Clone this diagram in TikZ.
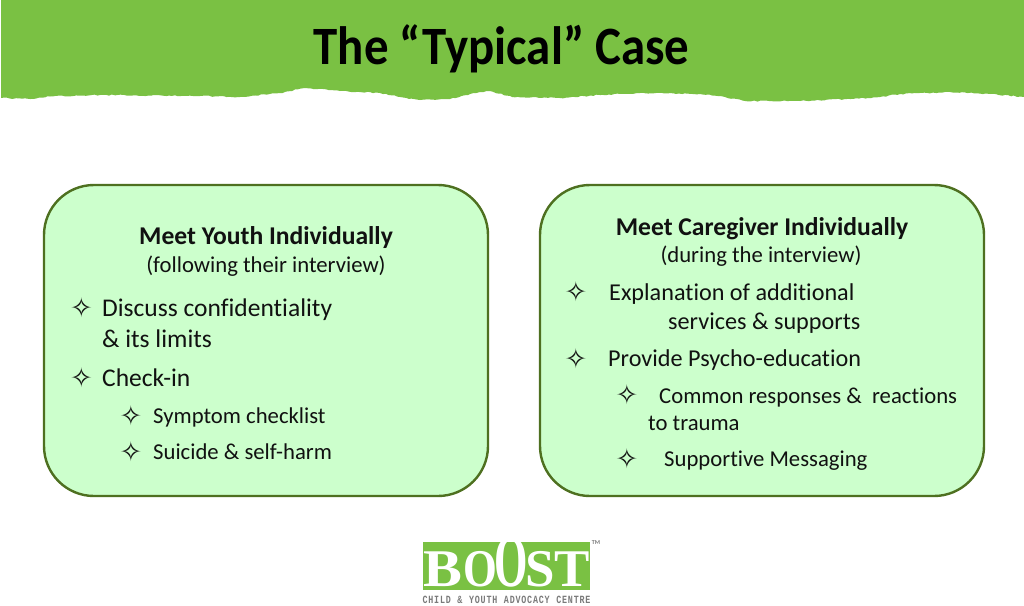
\documentclass[tikz,border=0pt]{standalone}
\usepackage{fontspec}
\setmainfont{Carlito}[RawFeature={-liga}]
\newfontfamily\symfont{DejaVu Sans}
\newfontfamily\logofont{Liberation Serif}
\newfontfamily\logosans{Liberation Mono}
\usetikzlibrary{decorations.pathmorphing}
\definecolor{bannergreen}{HTML}{7AC143}
\definecolor{panelfill}{HTML}{CCFFCC}
\definecolor{paneledge}{HTML}{4E7020}
\definecolor{inkc}{HTML}{111111}
\definecolor{logogray}{HTML}{7A7A7A}
\tikzset{
  panel/.style={draw=paneledge,line width=2.4pt,fill=panelfill,rounded corners=50pt},
  head/.style={anchor=base,font=\fontsize{25.6}{25.6}\selectfont\bfseries,text=inkc,inner sep=0pt},
  sub/.style={anchor=base,font=\fontsize{22.7}{22.7}\selectfont,text=inkc,inner sep=0pt},
  big/.style={anchor=base west,font=\fontsize{25.5}{25.5}\selectfont,text=inkc,inner sep=0pt},
  mid/.style={anchor=base west,font=\fontsize{22.7}{22.7}\selectfont,text=inkc,inner sep=0pt},
  rbig/.style={anchor=base west,font=\fontsize{24.2}{24.2}\selectfont,text=inkc,inner sep=0pt},
  bul/.style={anchor=center,font=\symfont\fontsize{27}{27}\selectfont,text=inkc,inner sep=0pt},
  logol/.style={anchor=base,text=white,inner sep=0pt,font=\logofont\bfseries\fontsize{53}{53}\selectfont},
}
\begin{document}
\begin{tikzpicture}[x=1pt,y=-1pt]
\useasboundingbox (0,0) rectangle (1024,605);
\fill[white] (0,0) rectangle (1024,605);
% banner
\fill[bannergreen,decoration={random steps,segment length=3pt,amplitude=0.6pt}]
  (1,0) -- (1,98) decorate {-- (30,99) -- (50,96.5) -- (100,95) -- (200,96) -- (240,97) -- (280,93) -- (305,88)
  -- (340,91) -- (380,93) -- (400,97) -- (420,100) -- (450,99) -- (480,92) -- (490,91) -- (512,97)
  -- (560,98) -- (600,95) -- (640,93) -- (700,94) -- (725,97) -- (745,101) -- (800,101) -- (850,99)
  -- (880,97) -- (900,94) -- (950,92) -- (990,94) -- (1024,97)} -- (1024,0) -- cycle;
\node[anchor=base,inner sep=0pt,xscale=0.905,font=\fontsize{54}{54}\selectfont\bfseries,text=black] (title) at (501.5,64) {The “Typical” Case};
% panels
\path[panel] (44,185) rectangle (488,496);
\path[panel] (540,185) rectangle (984,496);
% left
\node[head] (lh) at (266,244) {Meet Youth Individually};
\node[sub] (ls) at (266,272) {(following their interview)};
\node[bul] (b1) at (81.5,308) {✧};
\node[big] (t1) at (102,316) {Discuss confidentiality};
\node[big] (t1b) at (102,347) {\& its limits};
\node[bul] (b2) at (81.5,378) {✧};
\node[big] (t2) at (102,386) {Check-in};
\node[bul] (b3) at (131,416) {✧};
\node[mid] (t3) at (153,423) {Symptom checklist};
\node[bul] (b4) at (131,452) {✧};
\node[mid] (t4) at (153,459) {Suicide \& self-harm};
% right
\node[head] (rh) at (762,235) {Meet Caregiver Individually};
\node[sub] (rs) at (761,262) {(during the interview)};
\node[bul] (c1) at (576,292) {✧};
\node[rbig] (u1) at (609,300) {Explanation of additional};
\node[rbig] (u1b) at (668,329) {services \& supports};
\node[bul] (c2) at (576,359) {✧};
\node[rbig] (u2) at (608,366) {Provide Psycho-education};
\node[bul] (c3) at (627,395) {✧};
\node[mid] (u3) at (659,403) {Common responses \&\ \ reactions};
\node[mid] (u3b) at (648,430) {to trauma};
\node[bul] (c4) at (627,459) {✧};
\node[mid] (u4) at (664,466) {Supportive Messaging};
% logo
\fill[bannergreen] (423,542) rectangle (590,590);
\node[logol,xscale=1.1] (lgb) at (442.5,586) {B};
\node[logol,xscale=0.82] (lgo1) at (480,586) {O};
\node[logol,xscale=0.58,font=\logofont\bfseries\fontsize{74}{74}\selectfont] (lgo2) at (511,586) {O};
\node[logol,xscale=1] (lgs) at (540,586) {S};
\node[logol,xscale=1] (lgt) at (572.5,586) {T};
\node[anchor=base,inner sep=0pt,xscale=0.76,font=\logosans\bfseries\fontsize{11}{11}\selectfont,text=logogray] (lgc) at (506.5,603.5) {C\kern1.05pt H\kern1.05pt I\kern1.05pt L\kern1.05pt D\kern1.05pt\ \kern1.05pt\&\kern1.05pt\ \kern1.05pt Y\kern1.05pt O\kern1.05pt U\kern1.05pt T\kern1.05pt H\kern1.05pt\ \kern1.05pt A\kern1.05pt D\kern1.05pt V\kern1.05pt O\kern1.05pt C\kern1.05pt A\kern1.05pt C\kern1.05pt Y\kern1.05pt\ \kern1.05pt C\kern1.05pt E\kern1.05pt N\kern1.05pt T\kern1.05pt R\kern1.05pt E};
\node[anchor=center,inner sep=0pt,font=\fontsize{6}{6}\selectfont\bfseries,text=logogray] (lgtm) at (596,542.5) {TM};
\end{tikzpicture}
\end{document}
